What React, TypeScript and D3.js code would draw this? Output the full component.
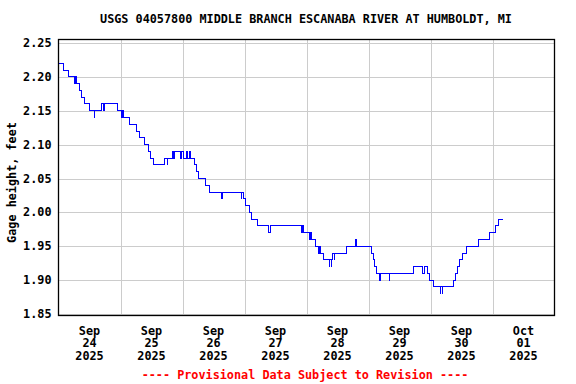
import React, { useRef, useEffect } from "react";
import * as d3 from "d3";

// change points of the 15-minute gage record (level holds until the next entry)
const readingTimes = [
  // Sep 24
  "09-24 00:00", "09-24 02:00", "09-24 03:45", "09-24 06:15", "09-24 06:30", "09-24 07:00",
  "09-24 08:00", "09-24 09:00", "09-24 10:15", "09-24 12:00", "09-24 13:45", "09-24 14:00",
  "09-24 16:30", "09-24 17:30", "09-24 17:45", "09-24 22:45",
  // Sep 25
  "09-25 00:15", "09-25 00:30", "09-25 00:45", "09-25 01:00", "09-25 01:15", "09-25 03:30",
  "09-25 06:00", "09-25 07:30", "09-25 09:15", "09-25 10:45", "09-25 11:30", "09-25 12:45",
  "09-25 17:00", "09-25 18:00", "09-25 18:15", "09-25 20:00", "09-25 20:30", "09-25 20:45",
  "09-25 23:15", "09-25 23:45",
  // Sep 26
  "09-26 00:15", "09-26 01:30", "09-26 01:45", "09-26 02:45", "09-26 03:00", "09-26 04:45",
  "09-26 05:15", "09-26 06:00", "09-26 09:00", "09-26 10:30", "09-26 15:15", "09-26 15:30",
  "09-26 22:45", "09-26 23:00", "09-26 23:30",
  // Sep 27
  "09-27 00:30", "09-27 01:45", "09-27 02:45", "09-27 05:00", "09-27 09:15", "09-27 10:15",
  "09-27 22:00", "09-27 22:30", "09-27 22:45",
  // Sep 28
  "09-28 01:15", "09-28 01:30", "09-28 02:00", "09-28 03:30", "09-28 04:30", "09-28 05:00",
  "09-28 05:15", "09-28 06:30", "09-28 08:45", "09-28 09:00", "09-28 09:30", "09-28 09:45",
  "09-28 10:15", "09-28 10:45", "09-28 11:00", "09-28 15:30", "09-28 19:00", "09-28 19:15",
  // Sep 29
  "09-29 01:15", "09-29 02:00", "09-29 02:30", "09-29 03:00", "09-29 04:15", "09-29 04:30",
  "09-29 08:00", "09-29 08:15", "09-29 17:15", "09-29 21:00", "09-29 21:30", "09-29 22:45",
  "09-29 23:45",
  // Sep 30
  "09-30 01:15", "09-30 03:45", "09-30 04:00", "09-30 04:30", "09-30 04:45", "09-30 08:45",
  "09-30 09:45", "09-30 10:30", "09-30 11:15", "09-30 12:15", "09-30 14:00", "09-30 18:45",
  "09-30 23:00",
  // Oct 01
  "10-01 01:15", "10-01 02:15", "10-01 04:15",
];

const gageHeight = [
  // Sep 24
  2.22, 2.21, 2.20, 2.19, 2.20, 2.19,
  2.18, 2.17, 2.16, 2.15, 2.14, 2.15,
  2.16, 2.15, 2.16, 2.15,
  // Sep 25
  2.14, 2.15, 2.14, 2.15, 2.14, 2.13,
  2.12, 2.11, 2.10, 2.09, 2.08, 2.07,
  2.08, 2.07, 2.08, 2.09, 2.08, 2.09,
  2.08, 2.09,
  // Sep 26
  2.08, 2.09, 2.08, 2.09, 2.08, 2.07,
  2.06, 2.05, 2.04, 2.03, 2.02, 2.03,
  2.02, 2.03, 2.02,
  // Sep 27
  2.01, 2.00, 1.99, 1.98, 1.97, 1.98,
  1.97, 1.98, 1.97,
  // Sep 28
  1.96, 1.97, 1.96, 1.95, 1.94, 1.95,
  1.94, 1.93, 1.92, 1.93, 1.92, 1.93,
  1.94, 1.93, 1.94, 1.95, 1.96, 1.95,
  // Sep 29
  1.94, 1.93, 1.92, 1.91, 1.90, 1.91,
  1.90, 1.91, 1.92, 1.91, 1.92, 1.91,
  1.90,
  // Sep 30
  1.89, 1.88, 1.89, 1.88, 1.89, 1.90,
  1.91, 1.92, 1.93, 1.94, 1.95, 1.96,
  1.97,
  // Oct 01
  1.98, 1.99, 1.99,
];

const yTicks = [1.85, 1.9, 1.95, 2.0, 2.05, 2.1, 2.15, 2.2, 2.25];
const dayTicks = ["09-24", "09-25", "09-26", "09-27", "09-28", "09-29", "09-30", "10-01"];

const title = "USGS 04057800 MIDDLE BRANCH ESCANABA RIVER AT HUMBOLDT, MI";
const yLabel = "Gage height, feet";
const footer = "---- Provisional Data Subject to Revision ----";

const FONT = "'DejaVu Sans Mono', monospace";

const App = () => {
  const svgRef = useRef<SVGSVGElement>(null);

  useEffect(() => {
    const parse = d3.utcParse("%Y-%m-%d %H:%M");
    const data = readingTimes.map((t, i) => ({
      t: parse(`2025-${t}`) as Date,
      v: gageHeight[i],
    }));

    const left = 58.5, right = 554.5, top = 39.5, bottom = 315.5;

    const x = d3
      .scaleUtc()
      .domain([new Date(Date.UTC(2025, 8, 24)), new Date(Date.UTC(2025, 9, 2))])
      .range([left, right]);
    const y = d3.scaleLinear().domain([1.85, 2.25]).range([314, 43]);

    const svg = d3.select(svgRef.current);
    svg.selectAll("*").remove();

    svg.append("rect").attr("width", 576).attr("height", 384).attr("fill", "#fff");

    // horizontal grid
    svg.append("g")
      .selectAll("line")
      .data(yTicks)
      .enter()
      .append("line")
      .attr("x1", left)
      .attr("x2", right)
      .attr("y1", (d) => Math.round(y(d)) + 0.5)
      .attr("y2", (d) => Math.round(y(d)) + 0.5)
      .attr("stroke", "#cccccc")
      .attr("stroke-width", 1);

    // vertical grid at midnight
    const midnights = d3.utcDay.range(
      new Date(Date.UTC(2025, 8, 25)),
      new Date(Date.UTC(2025, 9, 2))
    );
    svg.append("g")
      .selectAll("line")
      .data(midnights)
      .enter()
      .append("line")
      .attr("x1", (d) => Math.round(x(d)) + 0.5)
      .attr("x2", (d) => Math.round(x(d)) + 0.5)
      .attr("y1", top)
      .attr("y2", bottom)
      .attr("stroke", "#cccccc")
      .attr("stroke-width", 1);

    // gage height trace
    const line = d3
      .line<{ t: Date; v: number }>()
      .x((d) => x(d.t))
      .y((d) => y(d.v))
      .curve(d3.curveStepAfter);

    svg.append("path")
      .datum(data)
      .attr("d", line)
      .attr("fill", "none")
      .attr("stroke", "#0000ff")
      .attr("stroke-width", 1)
      .attr("shape-rendering", "crispEdges");

    // frame
    svg.append("rect")
      .attr("x", left)
      .attr("y", top)
      .attr("width", right - left)
      .attr("height", bottom - top)
      .attr("fill", "none")
      .attr("stroke", "#000")
      .attr("stroke-width", 1.3);

    const txt = (sel: any) =>
      sel
        .attr("font-family", FONT)
        .attr("font-weight", "bold")
        .attr("font-size", 11.8)
        .attr("dominant-baseline", "central");

    // y tick labels
    svg.append("g")
      .selectAll("text")
      .data(yTicks)
      .enter()
      .append("text")
      .call(txt)
      .attr("x", 51.5)
      .attr("y", (d) => y(d))
      .attr("text-anchor", "end")
      .text((d) => d3.format(".2f")(d));

    // x tick labels at midday
    const fmtMon = d3.utcFormat("%b");
    const fmtDay = d3.utcFormat("%d");
    const fmtYear = d3.utcFormat("%Y");
    const days = dayTicks.map((d) => parse(`2025-${d} 12:00`) as Date);
    const xl = svg.append("g")
      .selectAll("g")
      .data(days)
      .enter()
      .append("g");
    [fmtMon, fmtDay, fmtYear].forEach((f, i) => {
      xl.append("text")
        .call(txt)
        .attr("x", (d) => x(d))
        .attr("y", 330.5 + i * 12.6)
        .attr("text-anchor", "middle")
        .text((d) => f(d));
    });

    svg.append("text")
      .call(txt)
      .attr("x", 306)
      .attr("y", 19)
      .attr("text-anchor", "middle")
      .text(title);

    svg.append("text")
      .call(txt)
      .attr("transform", "translate(11.5,182.5) rotate(-90)")
      .attr("text-anchor", "middle")
      .text(yLabel);

    svg.append("text")
      .call(txt)
      .attr("x", 305)
      .attr("y", 375)
      .attr("text-anchor", "middle")
      .attr("fill", "#ff0000")
      .text(footer);
  }, []);

  return (
    <svg
      ref={svgRef}
      width={576}
      height={384}
      style={{ position: "absolute", left: 0, top: 0 }}
    ></svg>
  );
};

export default App;
